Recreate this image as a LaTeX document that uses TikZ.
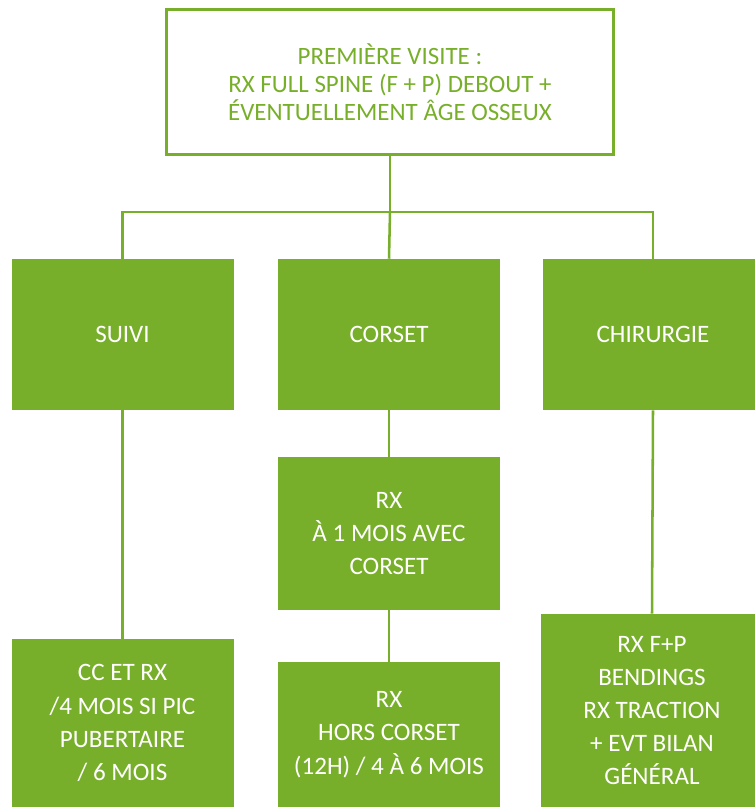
\documentclass[tikz,border=0pt]{standalone}
\usepackage{fontspec}
\setmainfont{Carlito}
\definecolor{leaf}{RGB}{120,175,42}

\begin{document}
\begin{tikzpicture}[x=0.75pt,y=-0.75pt,
    stepgreen/.style={fill=leaf,text=white,inner sep=0pt,align=center,
      minimum width=166.5pt,font=\fontsize{18.8}{24.9}\selectfont},
    link/.style={draw=leaf,line width=1.9pt}]

    \useasboundingbox (0,0) rectangle (754,807);

    % First visit
    \node[draw=leaf,line width=2.25pt,text=leaf,align=center,inner sep=0pt,
      minimum width=335.25pt,minimum height=108.75pt,
      font=\fontsize{18.7}{20.8}\selectfont] (visit) at (390,82)
      {PREMIÈRE VISITE :\\RX FULL SPINE (F + P) DEBOUT +\\ÉVENTUELLEMENT ÂGE OSSEUX};

    % Treatments
    \node[stepgreen,minimum height=113.25pt] (suivi) at (122.5,334.5) {SUIVI};
    \node[stepgreen,minimum height=113.25pt] (corset) at (389,334.5) {CORSET};
    \node[stepgreen,minimum height=113.25pt,minimum width=165pt] (chir) at (653,334.5) {CHIRURGIE};

    % Follow-up imaging
    \node[stepgreen,minimum height=114.75pt] (rxun) at (389,533.5)
      {RX\\À 1 MOIS AVEC\\CORSET};
    \node[stepgreen,minimum height=108.75pt] (rxhors) at (389,734.5)
      {RX\\HORS CORSET\\(12H) / 4 À 6 MOIS};
    \node[stepgreen,minimum height=126pt] (ccrx) at (122.5,723)
      {CC ET RX\\/4 MOIS SI PIC\\PUBERTAIRE\\/ 6 MOIS};
    \node[stepgreen,minimum height=144.75pt] (rxfp) at (652,710.5)
      {RX F+P\\BENDINGS\\RX TRACTION\\+ EVT BILAN\\GÉNÉRAL};

    % Connectors
    \draw[link] (visit.south) -- ++(0,56) coordinate (bus);
    \draw[link] (suivi.north) |- (bus) -| (chir.north);
    \draw[link] (bus) -- (corset.north);
    \draw[link] (suivi.south) -- (ccrx.north);
    \draw[link] (corset.south) -- (rxun.north);
    \draw[link] (rxun.south) -- (rxhors.north);
    \draw[link] (chir.south) -- (rxfp.north);
\end{tikzpicture}
\end{document}
